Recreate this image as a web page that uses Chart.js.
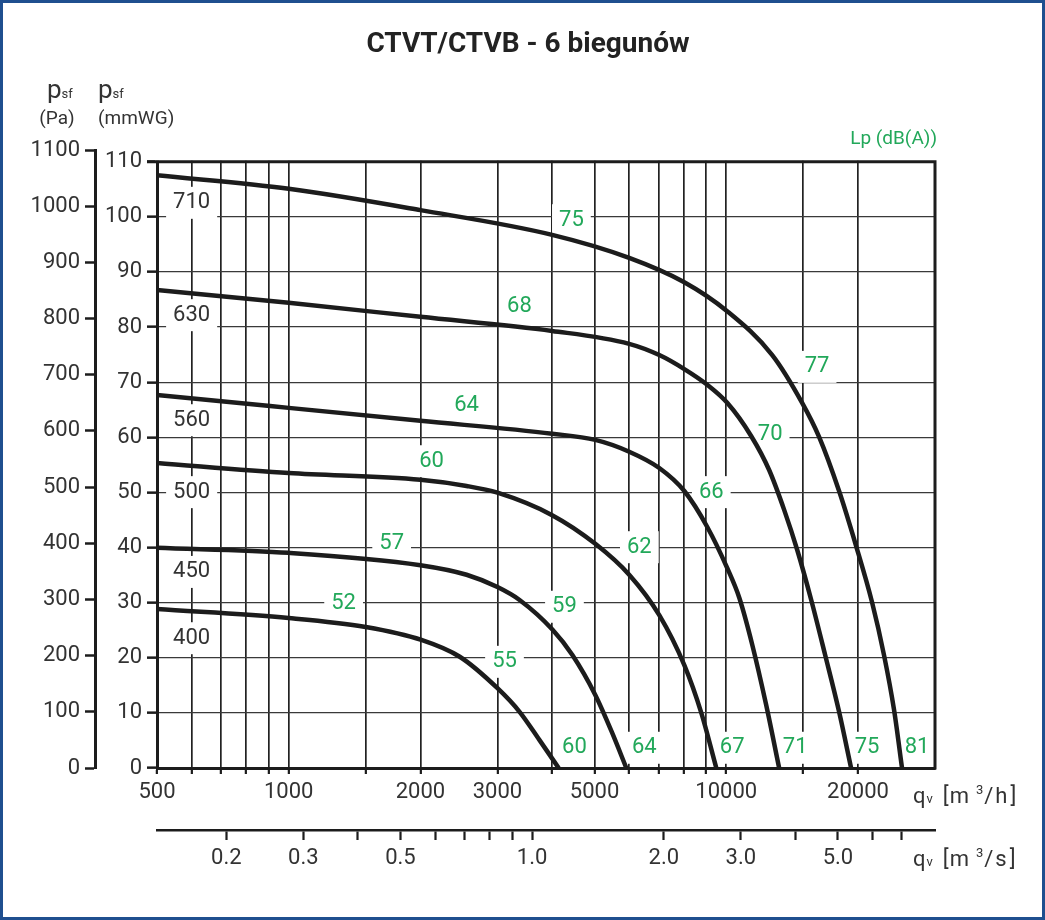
<!DOCTYPE html>
<html>
<head>
<meta charset="utf-8">
<title>CTVT/CTVB - 6 biegunów</title>
<script src="https://cdn.jsdelivr.net/npm/chart.js@4.4.1/dist/chart.umd.min.js"></script>
<style>
  html, body { margin: 0; padding: 0; background: #fff; }
  #wrap { width: 1045px; height: 920px; }
</style>
</head>
<body>
<div id="wrap"><canvas id="fanChart" width="1045" height="920"></canvas></div>
<script>
// fan sizes, one curve each
const fanSizes = ['400', '450', '500', '560', '630', '710'];

// airflow qv [m3/h] and static pressure psf [Pa]
const qv400 = [500, 1000, 1500, 2010, 2460, 3000, 3370, 3740, 4140];
const ps400 = [283, 267, 251, 228, 198, 142, 100, 50, 0];

const qv450 = [500, 1000, 2000, 2550, 3000, 3370, 4010, 4450, 5020, 5490, 5910];
const ps450 = [392, 383, 361, 344, 322, 299, 246, 201, 130, 62, 0];

const qv500 = [500, 1000, 2000, 2550, 3000, 4000, 5020, 6000, 7030, 8020, 8770, 9490];
const ps500 = [543, 525, 513, 502, 490, 450, 399, 344, 272, 183, 98, 0];

const qv560 = [500, 1000, 2000, 4000, 5020, 6000, 7030, 8020, 9050, 10050, 10710, 11470, 12340, 13210];
const ps560 = [664, 641, 618, 595, 584, 563, 534, 493, 429, 356, 303, 219, 112, 0];

const qv630 = [500, 1000, 2000, 4000, 6000, 7030, 8020, 9050, 10050, 11400, 12540, 13570, 14530, 15640, 16830, 18110, 19290];
const ps630 = [851, 828, 803, 778, 755, 735, 710, 682, 650, 591, 530, 459, 388, 299, 201, 100, 0];

const qv710 = [500, 1000, 2000, 4000, 6000, 8000, 10050, 12740, 14910, 16310, 18110, 19810, 21540, 22940, 24190, 25220];
const ps710 = [1055, 1031, 993, 949, 908, 865, 813, 735, 650, 589, 493, 395, 295, 201, 103, 0];

// where the size numbers sit on the 600 m3/h line [Pa]
const sizeLabelPs = [231, 349, 491, 619, 806, 1006];

// sound pressure levels Lp dB(A) along the curves
const lpLevels = ['52', '55', '60', '57', '59', '64', '60', '62', '67', '64', '66', '71', '68', '70', '75', '75', '77', '81'];
const lpQv = [1335, 3113, 4498, 1719, 4268, 6498, 2121, 6330, 10320, 2550, 9243, 14375, 3368, 12600, 20980, 4427, 16130, 27290];
const lpPs = [292, 189, 36, 400, 287, 36, 546, 393, 36, 646, 491, 36, 821, 593, 36, 975, 714, 36];

// axis ticks
const qvTicks = [500, 600, 700, 800, 900, 1000, 1500, 2000, 3000, 4000, 5000, 6000, 7000, 8000, 9000, 10000, 15000, 20000];
const qvLabels = [500, 1000, 2000, 3000, 5000, 10000, 20000];
const qsTicks = [0.2, 0.3, 0.4, 0.5, 0.6, 0.7, 0.8, 0.9, 1, 2, 3, 4, 5, 6, 7];
const qsLabels = [0.2, 0.3, 0.5, 1, 2, 3, 5];
const mmTicks = [0, 10, 20, 30, 40, 50, 60, 70, 80, 90, 100, 110];

const curveQv = [qv400, qv450, qv500, qv560, qv630, qv710];
const curvePs = [ps400, ps450, ps500, ps560, ps630, ps710];

const INK = '#1c1c1c';
const TEXT = '#333333';
const GREEN = '#22a85a';
const FONT = 'Roboto, "DejaVu Sans", sans-serif';
const PA_PER_MM = 9.81;

function boxedText(ctx, text, x, y, color) {
  ctx.font = '22px ' + FONT;
  const w = ctx.measureText(text).width + 14;
  const h = 32;
  ctx.fillStyle = '#fff';
  ctx.fillRect(x - w / 2, y - h / 2, w, h);
  ctx.fillStyle = color;
  ctx.textAlign = 'center';
  ctx.textBaseline = 'middle';
  ctx.fillText(text, x, y);
}

// draws pieces of text one after another, some smaller or raised
function richText(ctx, parts, x, y, color) {
  ctx.fillStyle = color;
  ctx.textAlign = 'left';
  ctx.textBaseline = 'alphabetic';
  parts.forEach(function(p) {
    ctx.font = (p.size || 22) + 'px ' + FONT;
    ctx.fillText(p.t, x, y - (p.rise || 0));
    x += ctx.measureText(p.t).width + (p.gap || 0);
  });
}

function flowTitle(unit) {
  return [
    {t: 'q', gap: 1},
    {t: 'v', size: 13, gap: 10},
    {t: '[', gap: 1},
    {t: 'm', gap: 7},
    {t: '3', size: 13, rise: 9, gap: 1},
    {t: '/', gap: 2},
    {t: unit, gap: 3},
    {t: ']'}
  ];
}

const chartDecor = {
  id: 'chartDecor',
  beforeDatasetsDraw(chart) {
    const {ctx, chartArea, scales} = chart;
    const topY = scales.yMm.getPixelForValue(110);
    ctx.save();
    // the plot frame ends at 110 mmWG, hide grid above it
    ctx.fillStyle = '#fff';
    ctx.fillRect(chartArea.left - 2, chartArea.top - 3, chartArea.right - chartArea.left + 6, topY - chartArea.top + 2);

    sizeLabelPs.forEach(function(p, i) {
      boxedText(ctx, fanSizes[i], scales.x.getPixelForValue(600), scales.yPa.getPixelForValue(p), TEXT);
    });
    lpLevels.forEach(function(t, i) {
      boxedText(ctx, t, scales.x.getPixelForValue(lpQv[i]), scales.yPa.getPixelForValue(lpPs[i]), GREEN);
    });
    ctx.restore();
  },
  afterDatasetsDraw(chart) {
    const {ctx, chartArea, scales} = chart;
    const topY = scales.yMm.getPixelForValue(110);
    ctx.save();
    ctx.strokeStyle = INK;
    ctx.lineWidth = 3;
    ctx.beginPath();
    ctx.moveTo(chartArea.left - 10, topY);
    ctx.lineTo(chartArea.right + 1.5, topY);
    ctx.moveTo(chartArea.right, topY);
    ctx.lineTo(chartArea.right, chartArea.bottom + 1.5);
    ctx.stroke();
    ctx.restore();
  },
  afterDraw(chart) {
    const {ctx, chartArea} = chart;
    ctx.save();
    ctx.fillStyle = '#222';
    ctx.font = 'bold 28px ' + FONT;
    ctx.textAlign = 'center';
    ctx.textBaseline = 'middle';
    ctx.fillText('CTVT/CTVB - 6 biegunów', 528, 45);

    richText(ctx, [{t: 'p', size: 26}, {t: 'sf', size: 13}], 47, 98, TEXT);
    richText(ctx, [{t: 'p', size: 26}, {t: 'sf', size: 13}], 98, 98, TEXT);
    ctx.font = '19px ' + FONT;
    ctx.textAlign = 'center';
    ctx.fillText('(Pa)', 57, 124);
    ctx.textAlign = 'left';
    ctx.fillText('(mmWG)', 98, 124);

    ctx.fillStyle = GREEN;
    ctx.font = '19px ' + FONT;
    ctx.textAlign = 'right';
    ctx.fillText('Lp (dB(A))', chartArea.right + 2, 144);

    richText(ctx, flowTitle('h'), 913, 803, TEXT);
    richText(ctx, flowTitle('s'), 913, 866, TEXT);

    // outer frame
    ctx.strokeStyle = '#1f4f8f';
    ctx.lineWidth = 3;
    ctx.strokeRect(1.5, 1.5, 1042, 917);
    ctx.restore();
  }
};

const ctx = document.getElementById('fanChart');

new Chart(ctx, {
  type: 'line',
  data: {
    datasets: fanSizes.map(function(size, i) {
      return {
        label: size,
        data: curveQv[i].map(function(q, k) { return {x: q, y: curvePs[i][k]}; }),
        xAxisID: 'x',
        yAxisID: 'yPa',
        borderColor: INK,
        borderWidth: 4.5,
        pointRadius: 0,
        fill: false,
        cubicInterpolationMode: 'monotone'
      };
    })
  },
  options: {
    responsive: false,
    animation: false,
    layout: {
      padding: {top: 150, right: 110, bottom: 30, left: 0}
    },
    plugins: {
      legend: {display: false},
      tooltip: {enabled: false},
      title: {display: false}
    },
    scales: {
      x: {
        type: 'logarithmic',
        position: 'bottom',
        weight: 0,
        min: 500,
        max: 30000,
        afterBuildTicks: function(scale) { scale.ticks = qvTicks.map(function(v) { return {value: v}; }); },
        afterFit: function(scale) { scale.height = 62; },
        ticks: {
          autoSkip: false,
          maxRotation: 0,
          padding: 5,
          color: TEXT,
          font: {family: FONT, size: 22},
          callback: function(v) { return qvLabels.indexOf(v) >= 0 ? String(v) : ''; }
        },
        grid: {color: '#222', lineWidth: 1.7, tickLength: 6, tickWidth: 2.2, tickColor: INK},
        border: {display: true, color: INK, width: 3}
      },
      x2: {
        type: 'logarithmic',
        position: 'bottom',
        weight: 1,
        min: 500 / 3600,
        max: 30000 / 3600,
        afterBuildTicks: function(scale) { scale.ticks = qsTicks.map(function(v) { return {value: v}; }); },
        afterFit: function(scale) { scale.height = 60; },
        ticks: {
          autoSkip: false,
          maxRotation: 0,
          padding: 5,
          color: TEXT,
          font: {family: FONT, size: 22},
          callback: function(v) { return qsLabels.indexOf(v) >= 0 ? v.toFixed(1) : ''; }
        },
        grid: {drawOnChartArea: false, tickLength: 10, tickWidth: 2.2, tickColor: INK},
        border: {display: true, color: INK, width: 2.5}
      },
      yPa: {
        type: 'linear',
        position: 'left',
        weight: 1,
        min: 0,
        max: 1100,
        afterFit: function(scale) { scale.width = 95; },
        ticks: {
          stepSize: 100,
          padding: 5,
          color: TEXT,
          font: {family: FONT, size: 22},
          callback: function(v) { return String(v); }
        },
        grid: {drawOnChartArea: false, tickLength: 10, tickWidth: 2.5, tickColor: INK},
        border: {display: true, color: INK, width: 3}
      },
      yMm: {
        type: 'linear',
        position: 'left',
        weight: 0,
        min: 0,
        max: 1100 / PA_PER_MM,
        afterBuildTicks: function(scale) { scale.ticks = mmTicks.map(function(v) { return {value: v}; }); },
        afterFit: function(scale) { scale.width = 62; },
        ticks: {
          padding: 5,
          color: TEXT,
          font: {family: FONT, size: 22},
          callback: function(v) { return String(v); }
        },
        grid: {color: '#3a3a3a', lineWidth: 1.3, tickLength: 10, tickWidth: 2.5, tickColor: INK},
        border: {display: true, color: INK, width: 3}
      }
    }
  },
  plugins: [chartDecor]
});
</script>
</body>
</html>
